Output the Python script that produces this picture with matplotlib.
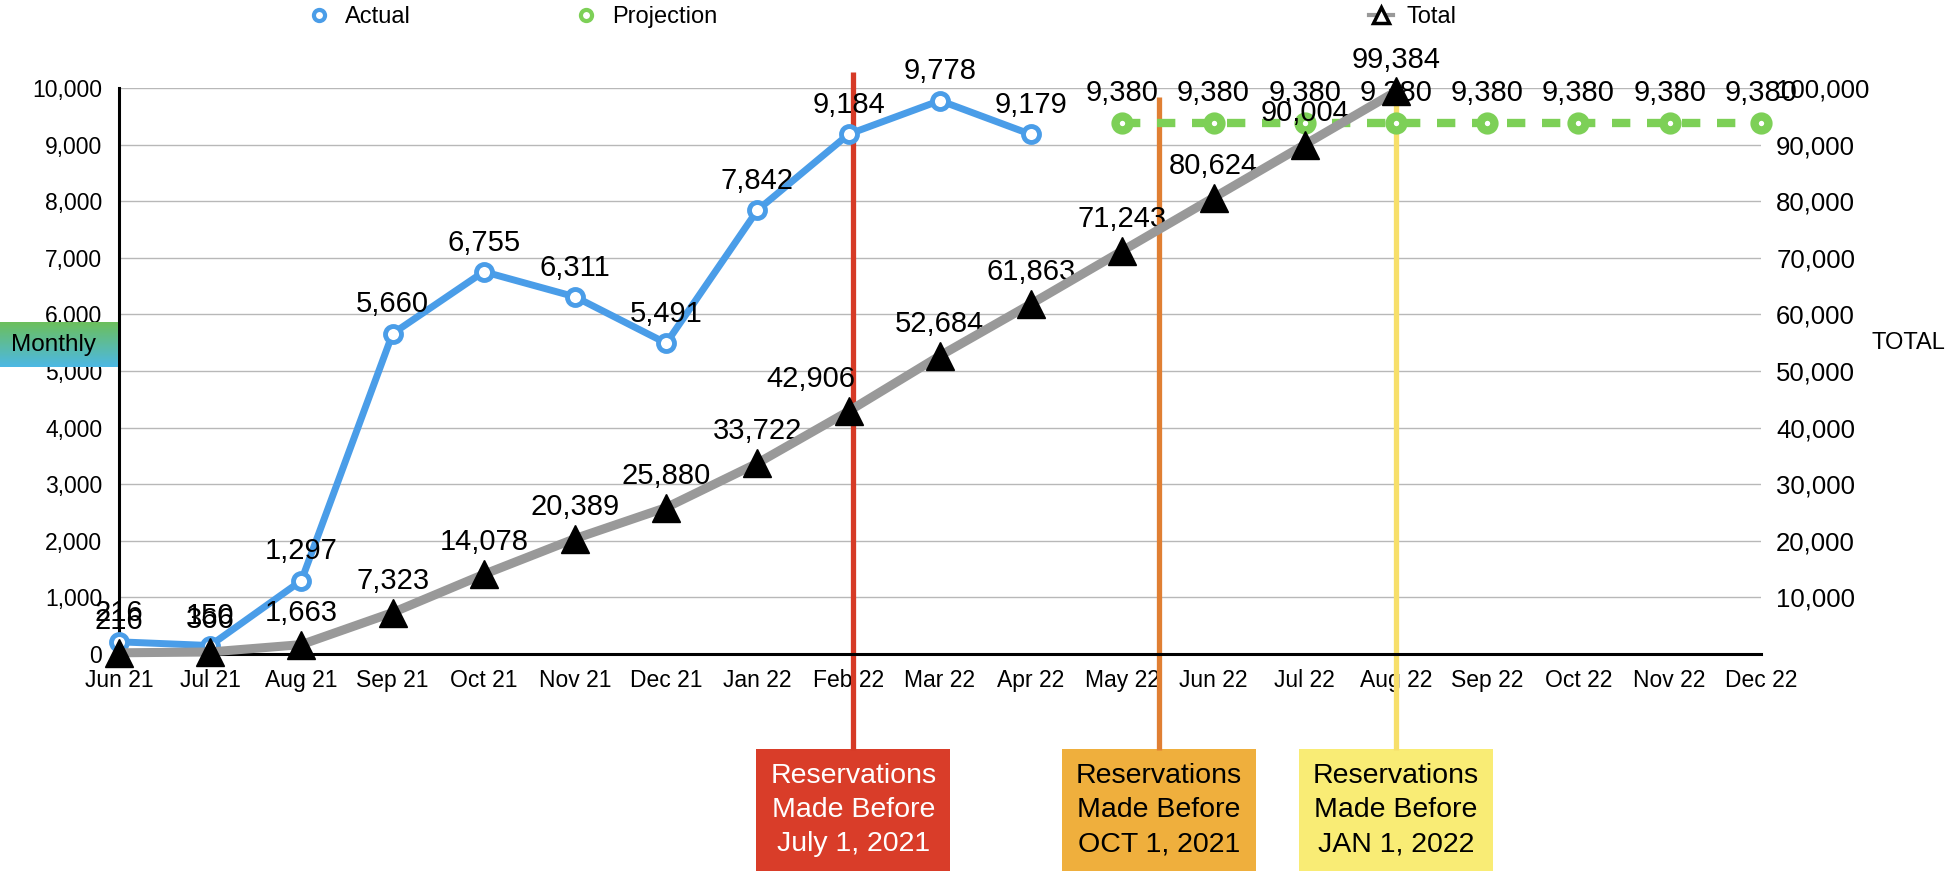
import matplotlib
matplotlib.use("Agg")
import matplotlib.pyplot as plt
import matplotlib.transforms as mtransforms
from matplotlib.lines import Line2D
from matplotlib.patches import Rectangle
from matplotlib.ticker import FuncFormatter
import numpy as np

plt.rcParams['font.family'] = ['Liberation Sans', 'DejaVu Sans']

MONTHS = ["Jun 21", "Jul 21", "Aug 21", "Sep 21", "Oct 21", "Nov 21", "Dec 21",
          "Jan 22", "Feb 22", "Mar 22", "Apr 22", "May 22", "Jun 22", "Jul 22",
          "Aug 22", "Sep 22", "Oct 22", "Nov 22", "Dec 22"]

# monthly reservations, Jun 21 .. Apr 22
ACTUAL = [216, 150, 1297, 5660, 6755, 6311, 5491, 7842, 9184, 9778, 9179]
# projected monthly, May 22 .. Dec 22
PROJECTION = [9380, 9380, 9380, 9380, 9380, 9380, 9380, 9380]
PROJ_START = 11
# running total, Jun 21 .. Aug 22
TOTAL = [216, 366, 1663, 7323, 14078, 20389, 25880, 33722, 42906, 52684,
         61863, 71243, 80624, 90004, 99384]

# reservation cut-off markers (month position, label, colours)
MILESTONE_POS = [8.05, 11.4, 14.0]
MILESTONE_TEXT = ["Reservations\nMade Before\nJuly 1, 2021",
                  "Reservations\nMade Before\nOCT 1, 2021",
                  "Reservations\nMade Before\nJAN 1, 2022"]
MILESTONE_LINE = ["#d63a26", "#e07f33", "#f7df6a"]
MILESTONE_BOX = ["#d93d29", "#efaf3d", "#f9ec75"]
MILESTONE_FG = ["white", "black", "black"]
MILESTONE_TOP = [1.028, 0.984, 0.99]

BLUE = "#4a9de8"
GREEN = "#7dd057"
GREY = "#999999"

fig = plt.figure(figsize=(19.5, 8.89), dpi=100)
ax = fig.add_axes([0.061, 0.2643, 0.842, 0.6367])
ax2 = ax.twinx()

x = np.arange(len(MONTHS))
ax.set_xlim(0, len(MONTHS) - 1)
ax.set_ylim(0, 10000)
ax.set_xticks(x)
ax.set_xticklabels(MONTHS)
ax.set_yticks(range(0, 10001, 1000))
ax.yaxis.set_major_formatter(FuncFormatter(lambda v, p: f"{v:,.0f}"))
ax.grid(axis="y", color="#b8b8b8", lw=1)
ax.set_axisbelow(True)
ax.tick_params(length=0, labelsize=16.5)
ax.tick_params(axis="x", pad=11)
ax.tick_params(axis="y", pad=12)
for side in ("top", "right"):
    ax.spines[side].set_visible(False)
    ax2.spines[side].set_visible(False)
for side in ("left", "bottom"):
    ax.spines[side].set_linewidth(2.2)
    ax.spines[side].set_color("black")
ax2.spines["left"].set_visible(False)
ax2.spines["bottom"].set_visible(False)

ax2.set_ylim(0, 100000)
ax2.set_yticks(range(10000, 100001, 10000))
ax2.yaxis.set_major_formatter(FuncFormatter(lambda v, p: f"{v:,.0f}"))
ax2.tick_params(length=0, labelsize=18.5, pad=11)

# milestone lines and boxes
blend = mtransforms.blended_transform_factory(ax.transData, ax.transAxes)
for pos, txt, lc, bc, fg, top in zip(MILESTONE_POS, MILESTONE_TEXT, MILESTONE_LINE,
                                     MILESTONE_BOX, MILESTONE_FG, MILESTONE_TOP):
    ax.plot([pos, pos], [-0.17, top], transform=blend, color=lc, lw=3.8,
            clip_on=False, zorder=1.5, solid_capstyle="butt")
    ax.add_patch(Rectangle((pos - 1.065, -0.383), 2.13, 0.215, transform=blend,
                           facecolor=bc, edgecolor="none", clip_on=False))
    ax.text(pos, -0.2755, txt, transform=blend, ha="center", va="center",
            fontsize=20.5, color=fg, linespacing=1.42)

# projection
xp = x[PROJ_START:PROJ_START + len(PROJECTION)]
ax.plot(xp, PROJECTION, color=GREEN, lw=6, ls=(0, (2.2, 2.0)), marker="o",
        ms=10, mew=6, mfc="white", mec=GREEN, clip_on=False, zorder=2)
for xi, v in zip(xp, PROJECTION):
    ax.annotate(f"{v:,}", (xi, v), xytext=(0, 22), textcoords="offset points",
                ha="center", va="center", fontsize=21, zorder=4)

# actual monthly
xa = x[:len(ACTUAL)]
ax.plot(xa, ACTUAL, color=BLUE, lw=5, marker="o", ms=11.5, mew=3.5,
        mfc="white", mec=BLUE, clip_on=False, zorder=3)
for xi, v in zip(xa, ACTUAL):
    ax.annotate(f"{v:,}", (xi, v), xytext=(0, 21), textcoords="offset points",
                ha="center", va="center", fontsize=21, zorder=4)

# running total (the Feb 22 label sits left of the red line)
xt = x[:len(TOTAL)]
ax2.plot(xt, TOTAL, color=GREY, lw=6.5, marker="^", ms=20, mfc="black",
         mec="black", clip_on=False, zorder=3)
for xi, v in zip(xt, TOTAL):
    dx = -27 if xi == 8 else 0
    ax2.annotate(f"{v:,}", (xi, v), xytext=(dx, 23), textcoords="offset points",
                 ha="center", va="center", fontsize=21, zorder=2)

# axis titles
fig.text(1872 / 1950, 1 - 343 / 889, "TOTAL", fontsize=17, ha="left", va="center")
bax = fig.add_axes([0, 1 - 367 / 889, 118 / 1950, 45 / 889])
grad = np.linspace(0, 1, 64).reshape(-1, 1)
cmap = matplotlib.colors.LinearSegmentedColormap.from_list("mg", ["#6cbf5c", "#4cb8e4"])
bax.imshow(grad, aspect="auto", cmap=cmap, extent=(0, 1, 0, 1))
bax.set_axis_off()
bax.text(0.09, 0.5, "Monthly", fontsize=17.5, ha="left", va="center",
         transform=bax.transAxes)

# legend entries spread across the top
entries = [
    (Line2D([], [], color=BLUE, lw=0, marker="o", ms=8, mew=3, mfc="white", mec=BLUE),
     "Actual", 307),
    (Line2D([], [], color=GREEN, lw=0, marker="o", ms=8, mew=3, mfc="white", mec=GREEN),
     "Projection", 574),
    (Line2D([], [], color=GREY, lw=3, marker="^", ms=11, mew=2.5, mfc="white",
            mec="black"),
     "Total", 1369),
]
for h, lab, px in entries:
    fig.legend(handles=[h], labels=[lab], loc="center left",
               bbox_to_anchor=(px / 1950, 1 - 17 / 889), frameon=False,
               fontsize=17, handlelength=1.0, handletextpad=0.6,
               borderpad=0, borderaxespad=0)

fig.savefig("out.png", dpi=100)
